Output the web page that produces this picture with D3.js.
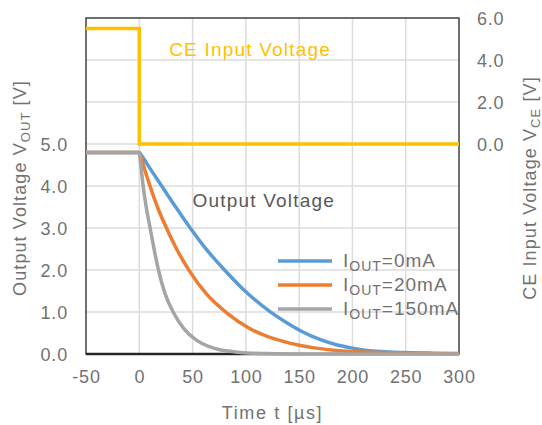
<!DOCTYPE html>
<html>
<head>
<meta charset="utf-8">
<script src="https://cdn.jsdelivr.net/npm/d3@7"></script>
<style>
  body { margin: 0; background: #fff; }
  text { font-family: "Liberation Sans", Arial, sans-serif; }
</style>
</head>
<body>
<div id="chart"></div>
<script>
// time ticks and axis labels
const timeTicks = [-50, 0, 50, 100, 150, 200, 250, 300];
const voutTicks = [0, 1, 2, 3, 4, 5];
const vceTicks = [0, 2, 4, 6];

// CE input voltage (step down at t = 0)
const ceTime = [-50, 0, 0, 300];
const ceVolt = [5.5, 5.5, 0, 0];

// output voltage, IOUT = 0mA
const t0 = [-50, -20, 0, 2, 10, 21, 35, 47, 62, 80, 100, 122, 138, 153, 170, 185, 200, 216, 235, 250, 275, 300];
const v0 = [4.8, 4.8, 4.8, 4.73, 4.42, 4.0, 3.47, 3.03, 2.52, 2.0, 1.48, 1.02, 0.75, 0.53, 0.34, 0.22, 0.14, 0.08, 0.05, 0.035, 0.02, 0.01];

// IOUT = 20mA
const t20 = [-50, -20, 0, 2, 5, 9.8, 17, 25.5, 35, 47, 63, 82, 104, 120, 135, 150, 166, 185, 200, 225, 250, 300];
const v20 = [4.8, 4.8, 4.8, 4.65, 4.4, 4.02, 3.5, 3.0, 2.5, 1.98, 1.43, 0.98, 0.6, 0.42, 0.3, 0.21, 0.14, 0.085, 0.06, 0.035, 0.02, 0.0];

// IOUT = 150mA
const t150 = [-50, -20, 0, 1, 3.6, 6.5, 10, 13.5, 17.7, 24, 31.8, 42, 53.6, 65, 75.5, 90, 105, 120, 150, 200, 300];
const v150 = [4.8, 4.8, 4.8, 4.6, 4.0, 3.5, 3.02, 2.55, 2.03, 1.45, 1.0, 0.6, 0.33, 0.18, 0.1, 0.05, 0.02, 0.01, 0, 0, 0];

const series = [
    { name: "=0mA", t: t0, v: v0, color: "#5b9bd5" },
    { name: "=20mA", t: t20, v: v20, color: "#ed7d31" },
    { name: "=150mA", t: t150, v: v150, color: "#a5a5a5" }
];

const width = 542, height = 425;
const margin = { top: 18, right: 83, bottom: 71, left: 86 };
const w = width - margin.left - margin.right;
const h = height - margin.top - margin.bottom;

const textColor = "#727272";

const svg = d3.select("#chart").append("svg")
    .attr("width", width)
    .attr("height", height);

const g = svg.append("g")
    .attr("transform", "translate(" + margin.left + "," + margin.top + ")");

const x = d3.scaleLinear().domain([-50, 300]).range([0, w]);
const yL = d3.scaleLinear().domain([0, 8]).range([h, 0]);
const yR = d3.scaleLinear().domain([-10, 6]).range([h, 0]);

// grid
g.append("g").selectAll("line")
    .data(timeTicks.slice(1, -1))
    .join("line")
    .attr("x1", d => x(d)).attr("x2", d => x(d))
    .attr("y1", 0).attr("y2", h)
    .attr("stroke", "#dcdcdc").attr("stroke-width", 1.5);

g.append("g").selectAll("line")
    .data(d3.range(1, 8))
    .join("line")
    .attr("y1", d => yL(d)).attr("y2", d => yL(d))
    .attr("x1", 0).attr("x2", w)
    .attr("stroke", "#dcdcdc").attr("stroke-width", 1.5);

// frame
g.append("rect")
    .attr("width", w).attr("height", h)
    .attr("fill", "none")
    .attr("stroke", "#404040").attr("stroke-width", 1.5);
g.append("line")
    .attr("x1", 0).attr("x2", w).attr("y1", h).attr("y2", h)
    .attr("stroke", "#262626").attr("stroke-width", 2.5);

// axes
const xAxis = g.append("g")
    .attr("transform", "translate(0," + h + ")")
    .call(d3.axisBottom(x).tickValues(timeTicks).tickFormat(d => String(d)).tickSize(0).tickPadding(16));
const yAxisL = g.append("g")
    .call(d3.axisLeft(yL).tickValues(voutTicks).tickFormat(d3.format(".1f")).tickSize(0).tickPadding(18));
const yAxisR = g.append("g")
    .attr("transform", "translate(" + w + ",0)")
    .call(d3.axisRight(yR).tickValues(vceTicks).tickFormat(d3.format(".1f")).tickSize(0).tickPadding(18));

[xAxis, yAxisL, yAxisR].forEach(a => {
    a.select(".domain").remove();
    a.selectAll("text")
        .attr("fill", textColor)
        .style("font-size", "18px")
        .style("letter-spacing", "0.8px")
        .style("font-family", "'Liberation Sans', Arial, sans-serif");
});
yAxisL.selectAll("text").attr("dy", "0.35em");
yAxisR.selectAll("text").attr("dy", "0.35em");

// lines
const line = d3.line()
    .x(d => x(d[0]))
    .y(d => yL(d[1]))
    .curve(d3.curveMonotoneX);

series.forEach(s => {
    g.append("path")
        .datum(d3.zip(s.t, s.v))
        .attr("fill", "none")
        .attr("stroke", s.color)
        .attr("stroke-width", 3.5)
        .attr("stroke-linejoin", "round")
        .attr("d", line);
});

const ceLine = d3.line()
    .x(d => x(d[0]))
    .y(d => yR(d[1]));

g.append("path")
    .datum(d3.zip(ceTime, ceVolt))
    .attr("fill", "none")
    .attr("stroke", "#ffc000")
    .attr("stroke-width", 3.5)
    .attr("d", ceLine);

// annotations
g.append("text")
    .attr("x", x(28))
    .attr("y", yR(4.2))
    .attr("fill", "#ffc000")
    .style("font-size", "19px")
    .style("letter-spacing", "1.2px")
    .text("CE Input Voltage");

g.append("text")
    .attr("x", x(50))
    .attr("y", yL(3.5))
    .attr("fill", "#595959")
    .style("font-size", "19px")
    .style("letter-spacing", "1.2px")
    .text("Output Voltage");

// legend
const legend = g.selectAll(".legend")
    .data(series)
    .join("g")
    .attr("class", "legend")
    .attr("transform", (d, i) => "translate(" + (w - 181) + "," + (243 + i * 24) + ")");

legend.append("line")
    .attr("x1", 0).attr("x2", 54)
    .attr("stroke", d => d.color)
    .attr("stroke-width", 3.5);

const lt = legend.append("text")
    .attr("x", 65)
    .attr("y", 6)
    .attr("fill", textColor)
    .style("font-size", "19px")
    .style("letter-spacing", "1px");
lt.append("tspan").text("I");
lt.append("tspan").attr("dy", 4).style("font-size", "14px").text("OUT");
lt.append("tspan").attr("dy", -4).text(d => d.name);

// axis titles
svg.append("text")
    .attr("x", margin.left + w / 2)
    .attr("y", 419)
    .attr("text-anchor", "middle")
    .attr("fill", textColor)
    .style("font-size", "18px")
    .style("letter-spacing", "1.6px")
    .text("Time t [\u00b5s]");

const ylt = svg.append("text")
    .attr("transform", "translate(26," + (margin.top + 170) + ") rotate(-90)")
    .attr("text-anchor", "middle")
    .attr("fill", textColor)
    .style("font-size", "18px")
    .style("letter-spacing", "1.1px");
ylt.append("tspan").text("Output Voltage V");
ylt.append("tspan").attr("dy", 4).style("font-size", "13px").text("OUT");
ylt.append("tspan").attr("dy", -4).text(" [V]");

const yrt = svg.append("text")
    .attr("transform", "translate(536," + (margin.top + 170) + ") rotate(-90)")
    .attr("text-anchor", "middle")
    .attr("fill", textColor)
    .style("font-size", "18px")
    .style("letter-spacing", "1.1px");
yrt.append("tspan").text("CE Input Voltage V");
yrt.append("tspan").attr("dy", 4).style("font-size", "13px").text("CE");
yrt.append("tspan").attr("dy", -4).text(" [V]");
</script>
</body>
</html>
